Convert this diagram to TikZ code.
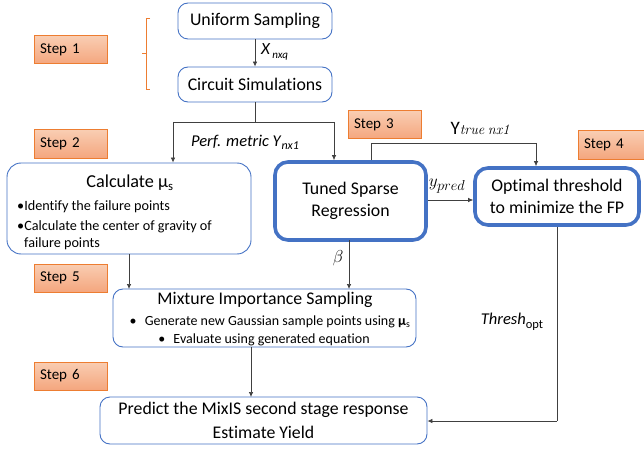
\documentclass[tikz,border=0pt]{standalone}
\usepackage[no-math]{fontspec}
\setmainfont{Carlito}[Ligatures=NoCommon]
\usetikzlibrary{arrows.meta}
\definecolor{boxblue}{HTML}{4472C4}
\definecolor{steporange}{HTML}{ED7D31}
\definecolor{steptop}{HTML}{F9CDB2}
\definecolor{stepbot}{HTML}{F4A67E}
\definecolor{linegray}{HTML}{404040}
\begin{document}
\begin{tikzpicture}[x=1pt,y=-1pt,
  stepbox/.style={draw=steporange,line width=1pt,top color=steptop,bottom color=stepbot,
    minimum height=28pt,text width=61pt,inner xsep=6pt,inner ysep=0pt,align=left,
    font=\fontsize{15}{15}\selectfont},
  thinbox/.style={draw=boxblue,line width=0.9pt,rounded corners=10pt,inner sep=0pt},
  thickbox/.style={draw=boxblue,line width=3.6pt,rounded corners=13pt,inner sep=0pt,align=center,
    font=\fontsize{17.8}{22.5}\selectfont},
  conn/.style={draw=linegray,line width=0.7pt},
  arr/.style={conn,-{Latex[length=5pt,width=4.5pt]}},
  lbl/.style={inner sep=0pt}
]
\useasboundingbox (0,0) rectangle (644,449);

% top boxes
\node[thinbox,minimum width=154pt,minimum height=36pt,font=\fontsize{17.8}{20}\selectfont] (unif) at (255,21) {Uniform Sampling};
\node[thinbox,minimum width=154pt,minimum height=35pt,font=\fontsize{17.8}{20}\selectfont] (circ) at (255,84.5) {Circuit Simulations};

% steps
\node[stepbox] (s1) at (70.5,50) {Step 1};
\node[stepbox] (s2) at (70.5,144) {Step 2};
\node[stepbox] (s3) at (384.5,125) {Step 3};
\node[stepbox] (s4) at (614.5,145) {Step 4};
\node[stepbox] (s5) at (70.5,278) {Step 5};
\node[stepbox] (s6) at (70.5,376) {Step 6};

% bracket
\draw[steporange,line width=1pt] (150,19) -- (146,19) -- (146,90) -- (150,90);
\draw[steporange,line width=1pt] (146,54) -- (142,54);

% calculate box
\node[thinbox,rounded corners=14pt,minimum width=244pt,minimum height=91pt] (calc) at (129,208.5) {};
\node[lbl,font=\fontsize{18.2}{20}\selectfont] (calct) at (130,183) {Calculate μ\textsubscript{s}};
\node[lbl,anchor=north west,align=left,font=\fontsize{14.2}{17}\selectfont] (calcb) at (17,200)
  {•Identify the failure points\\[3pt] •Calculate the center of gravity of\\ \hspace*{7pt}failure points};

% thick boxes
\node[thickbox,minimum width=151pt,minimum height=78pt] (tuned) at (350.5,201) {Tuned Sparse\\Regression};
\node[thickbox,minimum width=164pt,minimum height=57pt] (opt) at (557,196.5) {Optimal threshold\\to minimize the FP};

% mixture
\node[thinbox,minimum width=303pt,minimum height=58pt] (mix) at (264.5,318) {};
\node[lbl,font=\fontsize{17.8}{20}\selectfont] (mixt) at (265,300) {Mixture Importance Sampling};
\node[lbl,font=\fontsize{14}{15}\selectfont] (mixb1) at (270,322) {•\hspace{5pt} Generate new Gaussian sample points using \textbf{μ}\textsubscript{s}};
\node[lbl,font=\fontsize{14}{15}\selectfont] (mixb2) at (264,340) {•\hspace{5pt} Evaluate using generated equation};

% predict
\node[thinbox,minimum width=327pt,minimum height=47pt,align=center,font=\fontsize{17.8}{24}\selectfont] (pred) at (263.5,420.5) {Predict the MixIS second stage response\\Estimate Yield};

% connectors
\draw[arr] (unif.south) -- (circ.north);
\node[lbl,anchor=west] (xl) at (261,52) {\fontsize{17}{17}\selectfont\textit{X}\raisebox{-4pt}{\fontsize{11}{11}\selectfont\itshape\,nxq}};

\coordinate (sp) at (255,122);
\coordinate (spl) at (173,122);
\coordinate (spr) at (334,122);
\draw[conn] (circ.south) -- (sp);
\draw[conn] (spl) -- (spr);
\draw[arr] (spl) -- (spl |- calc.north);
\draw[arr] (spr) -- (spr |- tuned.north);
\node[lbl] (perf) at (245,142) {\fontsize{16.5}{16.5}\selectfont\textit{Perf. metric Y}\raisebox{-3pt}{\fontsize{12}{12}\selectfont\itshape nx1}};

\draw[arr] (tuned.east |- 0,200) -- (opt.west |- 0,200);
\node[lbl] (yp) at (447,186) {\fontsize{19}{19}\selectfont$y_{pred}$};

\coordinate (yt1) at (371,143);
\coordinate (yt2) at (536,143);
\draw[conn] (371,160) -- (yt1) -- (yt2);
\draw[arr] (yt2) -- (yt2 |- opt.north);
\node[lbl] (ytl) at (481,128) {\fontsize{19}{19}\selectfont Y\fontsize{15}{15}\selectfont$\mathit{true}\,\mathit{nx1}$};

\coordinate (th) at (557,421);
\draw[conn] (opt.south) -- (th);
\draw[arr] (th) -- (pred.east |- th);
\node[lbl] (thl) at (512,322) {\fontsize{16.5}{16.5}\selectfont\textit{Thresh}\raisebox{-4.5pt}{\fontsize{12.5}{12.5}\selectfont opt}};

\draw[arr] (129,254) -- (129,289);
\draw[arr] (349,240) -- (349,289);
\node[lbl] (bl) at (338,258) {\fontsize{17}{17}\selectfont$\beta$};

\draw[arr] (251,347) -- (251,397);
\end{tikzpicture}
\end{document}
